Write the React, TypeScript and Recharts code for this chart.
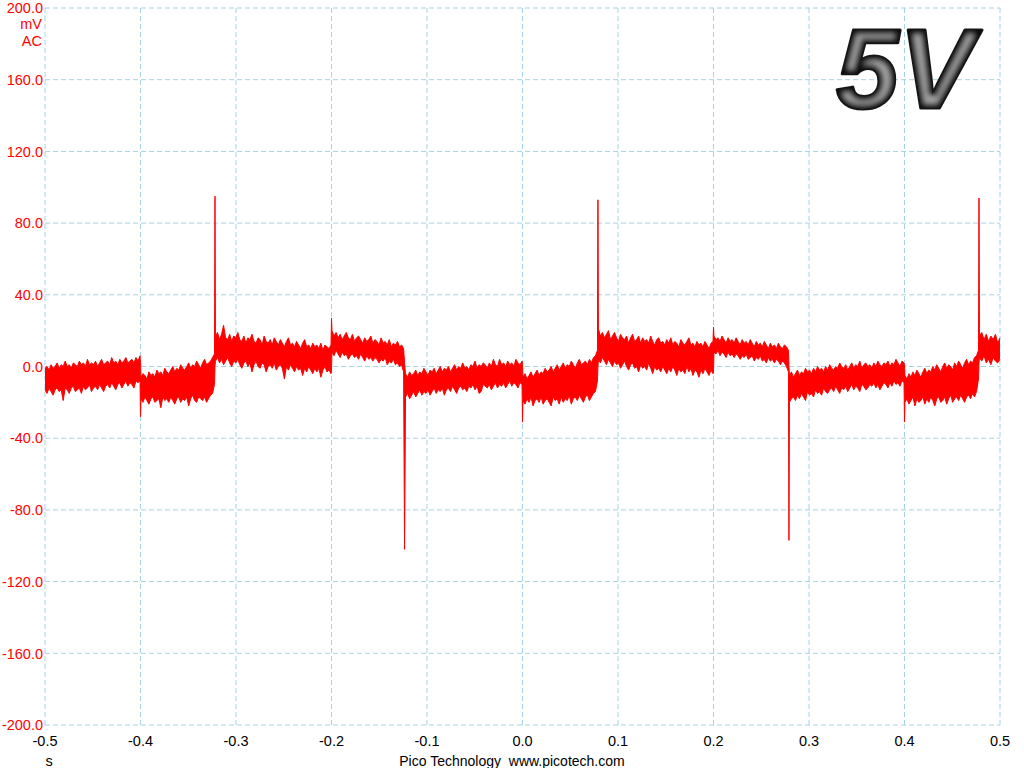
import React from 'react';
import { ComposedChart, Area, XAxis, YAxis, CartesianGrid } from 'recharts';

// time ticks (s) and voltage ticks (mV)
const xTicks = [-0.5, -0.4, -0.3, -0.2, -0.1, 0, 0.1, 0.2, 0.3, 0.4, 0.5];
const yTicks = [-200, -160, -120, -80, -40, 0, 40, 80, 120, 160, 200];

// flat noisy segments of the trace: start / end time, then low and high envelope (mV)
const segStart = [-0.5, -0.3995, -0.3215, -0.1995, -0.1225, 0.0005, 0.0795, 0.2005, 0.2795, 0.4005, 0.4785];
const segEnd = [-0.4005, -0.3225, -0.2005, -0.1245, -0.0005, 0.0785, 0.1995, 0.2785, 0.3995, 0.4775, 0.5];

const hi1 = [-1, 0, -2, 1, -1, 0, 2, -1, 1, 0, 3, 0, 1, -1, 2, 1, 0, 3, 1, 2, 0, 4, 1, 2, 1, 3, 0, 2, 4, 1, 2, 3, 1, 5, 2, 3, 1, 4, 2, 3, 5, 2, 3, 4, 2, 5, 3, 6];
const lo1 = [-13, -15, -12, -14, -16, -13, -12, -14, -13, -19, -12, -13, -15, -12, -11, -14, -13, -12, -15, -11, -13, -12, -10, -14, -12, -11, -13, -10, -12, -14, -11, -10, -12, -9, -11, -13, -10, -9, -12, -10, -8, -11, -9, -10, -12, -8, -9, -8];
const hi2 = [-6, -4, -5, -7, -3, -5, -4, -6, -2, -4, -3, -5, -1, -3, -4, -2, 0, -3, -1, -2, 1, -1, -2, 0, 2, -1, 1, 0, 3, 1, -1, 2, 4, 1, 2, 3, 5, 7];
const lo2 = [-18, -20, -17, -19, -21, -18, -17, -20, -19, -18, -23, -17, -19, -18, -20, -17, -19, -21, -18, -17, -20, -18, -19, -17, -22, -18, -16, -19, -20, -17, -18, -19, -17, -20, -18, -16, -15, -10];
const hi3 = [17, 19, 15, 18, 23, 16, 15, 18, 14, 17, 16, 19, 15, 14, 17, 13, 16, 15, 18, 14, 13, 16, 15, 12, 17, 14, 13, 15, 12, 16, 14, 12, 15, 13, 11, 14, 16, 12, 13, 11, 14, 12, 10, 13, 15, 11, 12, 10, 13, 11, 12, 10, 13, 9, 12, 11, 10, 12];
const lo3 = [3, 5, 2, 4, 1, 3, 5, 2, 0, 3, 2, 4, 1, -1, 2, 3, 0, 2, -3, 1, 3, 0, -1, 2, 1, -3, 0, 1, -1, 2, -2, 0, 1, -1, -7, 0, -2, 1, -1, -3, 0, -2, -1, -5, -1, -3, 0, -2, -4, -1, -3, -1, -6, -2, 0, -3, -2, -4];
const hi4 = [20, 17, 19, 16, 18, 15, 17, 19, 16, 15, 18, 14, 16, 17, 15, 13, 16, 14, 15, 17, 13, 15, 14, 12, 16, 13, 14, 12, 15, 11, 13, 12, 14, 11, 12, 10];
const lo4 = [8, 6, 9, 7, 5, 8, 6, 7, 4, 6, 7, 5, 6, 4, 7, 5, 3, 6, 4, 5, 3, 5, 4, 2, 4, 3, 5, 1, 3, 2, 4, 1, 2, 0, 1, -3];
const hi5 = [-4, -6, -3, -5, -4, -2, -5, -3, -4, -1, -3, -5, -2, -3, -1, -4, -2, 0, -3, -1, -2, 0, -3, -1, 1, -2, 0, -1, 2, -1, 0, -2, 1, 0, 3, -1, 1, 0, 2, 1, -1, 2, 0, 4, 1, 0, 4, 1, 2, 0, 3, 1, 2, 0, 4, 2, 1, 3];
const lo5 = [-17, -15, -18, -16, -14, -17, -15, -13, -16, -14, -15, -13, -16, -14, -12, -15, -13, -14, -12, -16, -13, -12, -14, -11, -13, -15, -12, -11, -13, -12, -14, -11, -12, -10, -13, -11, -15, -14, -10, -11, -12, -10, -13, -11, -9, -12, -10, -11, -9, -12, -10, -8, -11, -9, -10, -12, -9, -10];
const hi6 = [-6, -4, -7, -5, -3, -6, -4, -2, -5, -3, -4, -1, -3, -2, 0, -3, -1, 1, -2, 0, 2, -1, 1, 0, 3, 1, -1, 2, 4, 1, 2, 3, 1, 4, 2, 5, 6, 9];
const lo6 = [-19, -21, -18, -20, -17, -22, -19, -18, -20, -17, -21, -19, -18, -20, -22, -17, -19, -18, -21, -17, -20, -18, -19, -16, -21, -18, -17, -19, -16, -18, -20, -17, -16, -19, -17, -15, -14, -8];
const hi7 = [21, 17, 19, 16, 18, 20, 15, 17, 19, 16, 14, 18, 16, 15, 17, 13, 16, 18, 14, 15, 17, 13, 16, 14, 15, 13, 17, 14, 12, 15, 16, 13, 14, 12, 15, 13, 16, 12, 14, 13, 11, 15, 13, 12, 14, 16, 12, 13, 11, 14, 12, 13, 11, 14, 12, 10, 13, 14];
const lo7 = [4, 2, 5, 3, 1, 4, 2, 0, 3, 1, 2, -1, 1, 3, 0, -2, 1, 2, -1, 0, -3, 1, -1, 0, -2, 2, -1, -4, 0, -2, -1, -3, 0, -2, -4, -1, -3, 0, -2, -5, -1, -3, -2, -4, 0, -3, -1, -5, -2, -3, -6, -2, -4, -1, -3, -5, -2, -4];
const hi8 = [17, 15, 16, 14, 17, 15, 13, 16, 14, 15, 13, 16, 14, 12, 15, 13, 14, 12, 15, 13, 11, 14, 12, 13, 11, 14, 12, 10, 13, 11, 12, 10, 13, 11, 10, 12, 11, 9];
const lo8 = [8, 7, 9, 6, 8, 7, 5, 8, 6, 7, 5, 7, 6, 4, 6, 5, 7, 4, 5, 6, 3, 5, 4, 6, 3, 4, 2, 5, 3, 4, 2, 4, 3, 1, 3, 2, 0, -3];
const hi9 = [-5, -3, -6, -4, -2, -5, -3, -4, -1, -3, -2, -4, -1, -3, 0, -2, -1, -3, 0, -2, 1, -1, -2, 0, -1, 2, 0, -1, 1, -2, 0, 2, -1, 1, 0, 3, -1, 1, 2, 0, 1, -1, 2, 0, 3, 1, 0, 2, 1, 3, 0, 2, 1, 4, 2, 0, 3, 2];
const lo9 = [-20, -18, -17, -19, -16, -18, -15, -17, -19, -14, -16, -15, -17, -13, -15, -14, -16, -12, -14, -15, -13, -12, -14, -11, -13, -15, -12, -13, -11, -14, -12, -10, -13, -11, -12, -14, -10, -11, -13, -12, -10, -11, -9, -12, -10, -13, -11, -9, -10, -12, -9, -11, -8, -10, -9, -11, -8, -9];
const hi10 = [-5, -7, -4, -6, -3, -5, -2, -4, -6, -3, -1, -4, -2, -3, 0, -2, 1, -1, -3, 0, 2, -1, 1, 0, -2, 2, 0, 3, 1, -1, 2, 4, 1, 3, 2, 5, 6, 9];
const lo10 = [-20, -18, -21, -19, -17, -22, -18, -20, -19, -17, -21, -18, -20, -17, -19, -22, -18, -17, -20, -19, -17, -21, -18, -16, -20, -18, -17, -19, -16, -18, -20, -17, -16, -18, -15, -17, -14, -7];
const hi11 = [17, 19, 15, 18, 14, 17, 15, 18, 13, 16];
const lo11 = [5, 3, 6, 2, 4, 1, 5, 3, 2, 4];

const segHi = [hi1, hi2, hi3, hi4, hi5, hi6, hi7, hi8, hi9, hi10, hi11];
const segLo = [lo1, lo2, lo3, lo4, lo5, lo6, lo7, lo8, lo9, lo10, lo11];

// switching spikes between segments
const spikeTime = [-0.4, -0.322, -0.2, -0.1235, 0.0, 0.079, 0.2, 0.279, 0.4, 0.478];
const spikeLo = [-28, 0, -2, -102, -31, 0, -3, -97, -31, 2];
const spikeHi = [2, 95, 27, 2, 1, 93, 22, 0, 1, 94];

const data: { t: number; range: [number, number] }[] = [];
segStart.forEach((s, k) => {
    const lo = segLo[k];
    const hi = segHi[k];
    const n = lo.length;
    for (let i = 0; i < n; i++) {
        data.push({ t: s + ((segEnd[k] - s) * i) / (n - 1), range: [lo[i], hi[i]] });
    }
    if (k < spikeTime.length) {
        data.push({ t: spikeTime[k], range: [spikeLo[k], spikeHi[k]] });
    }
});

const FONT = '"Liberation Sans", Arial, sans-serif';

const YTick = (props: any) => (
    <text x={43} y={props.y} dy="0.36em" textAnchor="end" fill="#ff0000" fontFamily={FONT} fontSize={14.5}>
        {Number(props.payload.value).toFixed(1)}
    </text>
);

const XTick = (props: any) => (
    <text x={props.x} y={746} textAnchor="middle" fill="#000" fontFamily={FONT} fontSize={14.5}>
        {Number(props.payload.value).toFixed(1)}
    </text>
);

const App: React.FC = () => {
    return (
        <div style={{ position: 'fixed', left: 0, top: 0, width: 1024, height: 768, background: '#fff' }}>
            <ComposedChart width={1024} height={768} data={data} margin={{ top: 8, right: 24, left: 0, bottom: 0 }}>
                <CartesianGrid stroke="#a4d3e4" strokeDasharray="5 3" />
                <XAxis
                    dataKey="t"
                    type="number"
                    domain={[-0.5, 0.5]}
                    ticks={xTicks}
                    height={43}
                    axisLine={false}
                    tickLine={false}
                    tick={<XTick />}
                    interval={0}
                />
                <YAxis
                    type="number"
                    domain={[-200, 200]}
                    ticks={yTicks}
                    width={45}
                    axisLine={false}
                    tickLine={false}
                    tick={<YTick />}
                    interval={0}
                />
                <Area
                    dataKey="range"
                    type="linear"
                    stroke="#ff0000"
                    strokeWidth={1}
                    fill="#ff0000"
                    fillOpacity={1}
                    dot={false}
                    activeDot={false}
                    isAnimationActive={false}
                />
            </ComposedChart>
            <svg width={1024} height={768} style={{ position: 'absolute', left: 0, top: 0, pointerEvents: 'none' }}>
                <defs>
                    <clipPath id="fiveV">
                        <text x={836} y={108} fontFamily={FONT} fontSize={113} fontWeight="bold" fontStyle="italic">5V</text>
                    </clipPath>
                    <filter id="soft" x="-10%" y="-10%" width="120%" height="120%">
                        <feGaussianBlur stdDeviation={2.6} />
                    </filter>
                </defs>
                <text x={42} y={24} dy="0.36em" textAnchor="end" fill="#ff0000" fontFamily={FONT} fontSize={14.5}>mV</text>
                <text x={42} y={41} dy="0.36em" textAnchor="end" fill="#ff0000" fontFamily={FONT} fontSize={14.5}>AC</text>
                <text x={49} y={766} textAnchor="middle" fill="#000" fontFamily={FONT} fontSize={14.5}>s</text>
                <text x={512} y={766} textAnchor="middle" fill="#000" fontFamily={FONT} fontSize={14}>
                    Pico Technology{'\u00a0\u00a0'}www.picotech.com
                </text>
                <text
                    x={836}
                    y={108}
                    fontFamily={FONT}
                    fontSize={113}
                    fontWeight="bold"
                    fontStyle="italic"
                    fill="#151515"
                    stroke="#151515"
                    strokeWidth={3}
                    strokeLinejoin="round"
                >
                    5V
                </text>
                <g clipPath="url(#fiveV)">
                    <text
                        x={836}
                        y={108}
                        fontFamily={FONT}
                        fontSize={113}
                        fontWeight="bold"
                        fontStyle="italic"
                        fill="#a2a2a2"
                        stroke="#0d0d0d"
                        strokeWidth={9}
                        filter="url(#soft)"
                    >
                        5V
                    </text>
                </g>
            </svg>
        </div>
    );
};

export default App;
